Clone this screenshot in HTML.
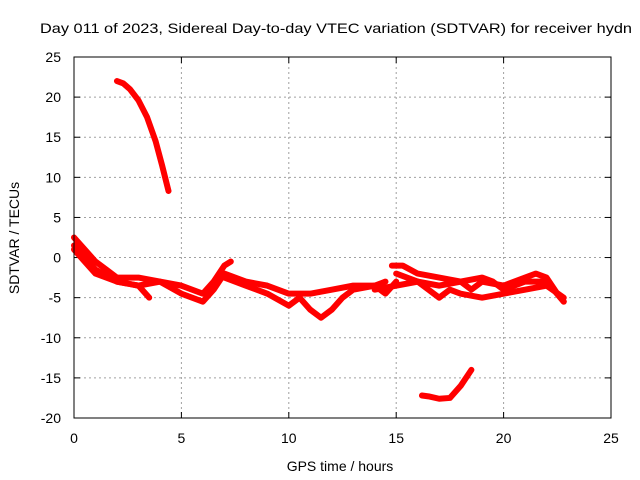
<!DOCTYPE html>
<html><head><meta charset="utf-8"><style>html,body{margin:0;padding:0;background:#fff}svg{display:block;font-family:"Liberation Sans",sans-serif}</style></head>
<body>
<svg id="chart" width="640" height="480">
<rect width="640" height="480" fill="#fff"/>
<text x="40" y="33" font-size="14" textLength="592" lengthAdjust="spacingAndGlyphs">Day 011 of 2023, Sidereal Day-to-day VTEC variation (SDTVAR) for receiver hydn</text>
<g id="grid"></g>
<g id="ticks"></g>
<g id="series"></g>
<rect x="74" y="57" width="537" height="361" fill="none" stroke="#000" stroke-width="1"/>
<text x="340" y="471" font-size="14" text-anchor="middle">GPS time / hours</text>
<text transform="translate(19,238) rotate(-90)" font-size="14" text-anchor="middle">SDTVAR / TECUs</text>
</svg>
<script>
const xTicks=[0,5,10,15,20,25];
const yTicks=[25,20,15,10,5,0,-5,-10,-15,-20];
const seriesA_x=[2.0,2.3,2.6,3.0,3.4,3.8,4.1,4.4];
const seriesA_y=[22,21.7,21,19.6,17.5,14.5,11.5,8.3];
const seriesB_x=[16.2,16.5,17,17.5,18,18.5];
const seriesB_y=[-17.2,-17.3,-17.6,-17.5,-16,-14];
const track1_x=[0,0.5,1,1.5,2,3,4,5,6,6.5,7,7.3];
const track1_y=[2.5,1,-0.5,-1.5,-2.5,-2.5,-3,-3.5,-4.5,-3,-1,-0.5];
const track2_x=[0,1,2,3,4,5,6,6.5,7,8,9,10,11,12,13,14,14.5];
const track2_y=[1.5,-1.5,-3,-3.5,-3,-4.5,-5.5,-4,-2,-3,-3.5,-4.5,-4.5,-4,-3.5,-3.5,-3];
const track3_x=[7,8,9,10,10.5,11,11.5,12,12.5,13,14,14.5,15];
const track3_y=[-2.5,-3.5,-4.5,-6,-5,-6.5,-7.5,-6.5,-5,-4,-3.5,-4.5,-3];
const track4_x=[14.8,15.3,16,17,18,18.5,19,20,21,21.5,22,22.5,22.8];
const track4_y=[-1,-1,-2,-2.5,-3,-4,-3,-3.5,-2.5,-2,-2.5,-4.5,-5.5];
const track5_x=[15,16,16.5,17,17.5,18,19,20,21,22,22.8];
const track5_y=[-2,-3,-4,-5,-4,-4.5,-5,-4.5,-4,-3.5,-5];
const track6_x=[14,15,16,17,18,19,19.5,20,21,22,22.8];
const track6_y=[-4,-3.5,-3,-3.5,-3,-2.5,-3,-4,-3,-3,-5.5];
const track7_x=[0,0.5,1,2,3,3.5];
const track7_y=[1,-0.5,-2,-3,-3.5,-5];
const NS='http://www.w3.org/2000/svg';
const X=v=>74+v*(537/25);
const Y=v=>57+(25-v)*(361/45);
const grid=document.getElementById('grid'),ticks=document.getElementById('ticks'),ser=document.getElementById('series');
function mk(t,a,p){const e=document.createElementNS(NS,t);for(const k in a)e.setAttribute(k,a[k]);p.appendChild(e);return e;}
xTicks.forEach(v=>{
 if(v>0&&v<25){const g=mk('line',{x1:X(v),x2:X(v),y1:57,y2:418,stroke:'#a0a0a0','stroke-dasharray':'2,3'},grid);
 
 }
 const t1=mk('line',{x1:X(v),x2:X(v),y1:418,y2:412,stroke:'#000'},ticks);
 
 
 const t2=mk('line',{x1:X(v),x2:X(v),y1:57,y2:63,stroke:'#000'},ticks);
 
 
 const l=mk('text',{x:X(v),y:443,'font-size':14,'text-anchor':'middle'},ticks);l.textContent=v;
 
 
});
yTicks.forEach(v=>{
 if(v>-20&&v<25){const g=mk('line',{x1:74,x2:611,y1:Y(v),y2:Y(v),stroke:'#a0a0a0','stroke-dasharray':'2,3'},grid);
 
 }
 const t1=mk('line',{x1:74,x2:80,y1:Y(v),y2:Y(v),stroke:'#000'},ticks);
 
 
 const t2=mk('line',{x1:605,x2:611,y1:Y(v),y2:Y(v),stroke:'#000'},ticks);
 
 
 const l=mk('text',{x:61,y:Y(v)+5,'font-size':14,'text-anchor':'end'},ticks);l.textContent=v;
 
 
});
[[seriesA_x,seriesA_y],[seriesB_x,seriesB_y],[track1_x,track1_y],[track2_x,track2_y],[track3_x,track3_y],[track4_x,track4_y],[track5_x,track5_y],[track6_x,track6_y],[track7_x,track7_y]].forEach(([xs,ys])=>{
 const p=mk('polyline',{points:xs.map((x,i)=>X(x)+','+Y(ys[i])).join(' '),fill:'none',stroke:'#ff0000','stroke-width':6,'stroke-linejoin':'round','stroke-linecap':'round'},ser);
 
 
});
</script>
</body></html>
